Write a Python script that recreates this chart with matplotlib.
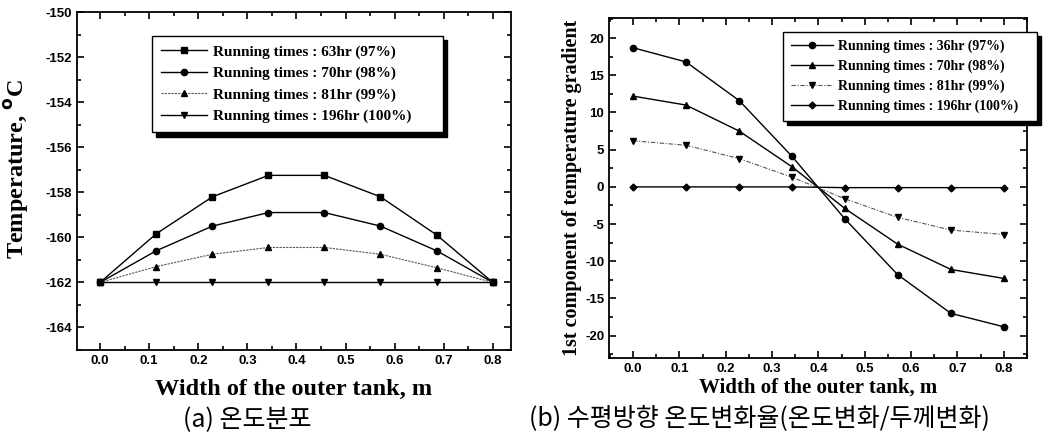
import matplotlib
matplotlib.use('Agg')
import matplotlib.pyplot as plt
from matplotlib.ticker import MultipleLocator

plt.rcParams['axes.unicode_minus'] = False

# ---------------------------------------------------------------- DATA
width = [0.0, 0.114, 0.229, 0.343, 0.457, 0.571, 0.686, 0.8]

temp_labels = ['Running times : 63hr (97%)', 'Running times : 70hr (98%)',
               'Running times : 81hr (99%)', 'Running times : 196hr (100%)']
temp_63 = [-162.0, -159.85, -158.2, -157.25, -157.25, -158.2, -159.9, -162.0]
temp_70 = [-162.0, -160.6, -159.5, -158.9, -158.9, -159.5, -160.6, -162.0]
temp_81 = [-162.0, -161.3, -160.75, -160.45, -160.45, -160.75, -161.35, -162.0]
temp_196 = [-162.0, -162.0, -162.0, -162.0, -162.0, -162.0, -162.0, -162.0]

grad_labels = ['Running times : 36hr (97%)', 'Running times : 70hr (98%)',
               'Running times : 81hr (99%)', 'Running times : 196hr (100%)']
grad_36 = [18.7, 16.8, 11.6, 4.1, -4.3, -11.8, -17.0, -18.8]
grad_70 = [12.2, 11.0, 7.5, 2.7, -2.9, -7.7, -11.1, -12.3]
grad_81 = [6.2, 5.6, 3.8, 1.3, -1.6, -4.1, -5.8, -6.4]
grad_196 = [0.0, 0.0, 0.0, 0.0, -0.1, -0.1, -0.1, -0.1]

# ---------------------------------------------------------------- STYLE
serif = 'Liberation Serif'
sans = 'Liberation Sans'
kr = 'Noto Sans CJK KR'


def style_axes(ax):
    ax.tick_params(which='both', direction='in', top=True, right=True, width=1.2)
    ax.tick_params(which='major', length=5)
    ax.tick_params(which='minor', length=3)
    for lab in ax.get_xticklabels() + ax.get_yticklabels():
        lab.set_fontfamily(sans)
        lab.set_fontweight('bold')
        lab.set_fontsize(9.5)
    for sp in ax.spines.values():
        sp.set_linewidth(1.3)


def add_legend(ax, box, fsize, hlen, spacing):
    # box = (x, y_top, width) in axes coords; 'expand' stretches the frame
    leg = ax.legend(loc='upper left', bbox_to_anchor=(box[0], box[1] - 0.3, box[2], 0.3),
                    mode='expand', fancybox=False,
                    edgecolor='black', framealpha=1, borderaxespad=0,
                    shadow={'color': 'black', 'alpha': 1, 'ox': 3, 'oy': -3},
                    prop={'family': serif, 'weight': 'bold', 'size': fsize},
                    handlelength=hlen, handletextpad=0.4, labelspacing=spacing,
                    borderpad=0.6)
    leg.get_frame().set_linewidth(1.0)
    return leg


fig = plt.figure(figsize=(10.52, 4.38), dpi=100)

# ---------------------------------------------------------------- LEFT: temperature
ax1 = fig.add_axes([0.0732, 0.2009, 0.4125, 0.7717])
ax1.plot(width, temp_63, color='black', lw=1.0, marker='s', ms=4.5, label=temp_labels[0])
ax1.plot(width, temp_70, color='black', lw=1.0, marker='o', ms=4.5, label=temp_labels[1])
ax1.plot(width, temp_81, color='#555555', lw=0.8, ls=(0, (2, 1)), marker='^', ms=4.5,
         markerfacecolor='black', markeredgecolor='black', label=temp_labels[2])
ax1.plot(width, temp_196, color='black', lw=1.0, marker='v', ms=4.5, label=temp_labels[3])
ax1.set_xlim(-0.047, 0.837)
ax1.set_ylim(-165, -150)
ax1.xaxis.set_major_locator(MultipleLocator(0.1))
ax1.xaxis.set_minor_locator(MultipleLocator(0.05))
ax1.yaxis.set_major_locator(MultipleLocator(2))
ax1.yaxis.set_minor_locator(MultipleLocator(1))
ax1.set_xticks(ax1.get_xticks())
ax1.set_xticklabels(['%.1f' % t for t in ax1.get_xticks()])
ax1.set_xlim(-0.047, 0.837)
style_axes(ax1)
ax1.set_xlabel('Width of the outer tank, m', fontfamily=serif, fontweight='bold',
               fontsize=17.5, labelpad=9)
ax1.set_ylabel('Temperature, $^{\\mathbf{o}}$C', fontfamily=serif, fontweight='bold',
               fontsize=17.5)
ax1.yaxis.set_label_coords(-0.105, 0.535)
add_legend(ax1, (0.173, 0.93, 0.67), 11, 3.0, 0.5)

# ---------------------------------------------------------------- RIGHT: gradient
ax2 = fig.add_axes([0.5789, 0.1826, 0.3973, 0.7763])
ax2.plot(width, grad_36, color='black', lw=1.0, marker='o', ms=4.5, label=grad_labels[0])
ax2.plot(width, grad_70, color='black', lw=1.0, marker='^', ms=5, label=grad_labels[1])
ax2.plot(width, grad_81, color='#555555', lw=0.8, ls=(0, (4, 1.5, 1, 1.5)), marker='v', ms=4.5,
         markerfacecolor='black', markeredgecolor='black', label=grad_labels[2])
ax2.plot(width, grad_196, color='black', lw=1.0, marker='D', ms=3.5, label=grad_labels[3])
ax2.set_xlim(-0.052, 0.85)
ax2.set_ylim(-23, 22.7)
ax2.xaxis.set_major_locator(MultipleLocator(0.1))
ax2.xaxis.set_minor_locator(MultipleLocator(0.05))
ax2.yaxis.set_major_locator(MultipleLocator(5))
ax2.yaxis.set_minor_locator(MultipleLocator(2.5))
ax2.set_xticks(ax2.get_xticks())
ax2.set_xticklabels(['%.1f' % t for t in ax2.get_xticks()])
ax2.set_xlim(-0.052, 0.85)
style_axes(ax2)
ax2.set_xlabel('Width of the outer tank, m', fontfamily=serif, fontweight='bold',
               fontsize=15, labelpad=2)
ax2.set_ylabel('1st component of temperature gradient', fontfamily=serif,
               fontweight='bold', fontsize=14.5, labelpad=2)
add_legend(ax2, (0.416, 0.96, 0.608), 10, 3.0, 0.45)

# ---------------------------------------------------------------- CAPTIONS
fig.text(0.235, 0.042, '(a) 온도분포', family=[kr, 'DejaVu Sans'], fontsize=18,
         ha='center', va='center')
fig.text(0.722, 0.044, '(b) 수평방향 온도변화율(온도변화/두께변화)',
         family=[kr, 'DejaVu Sans'], fontsize=18, ha='center', va='center')

plt.savefig('out.png', dpi=100)
